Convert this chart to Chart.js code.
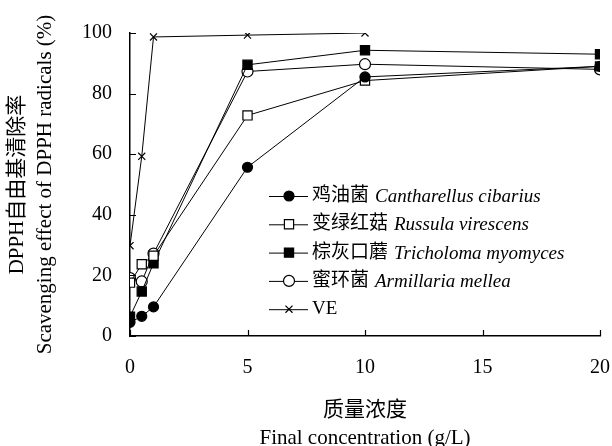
<!DOCTYPE html>
<html>
<head>
<meta charset="utf-8">
<script src="https://cdn.jsdelivr.net/npm/chart.js@4"></script>
<style>
html,body{margin:0;padding:0;background:#fff}
#wrap{width:612px;height:446px}
</style>
</head>
<body>
<div id="wrap"><canvas id="c" width="612" height="446"></canvas></div>
<script>
// données
const concentrations = [0, 0.5, 1, 5, 10, 20];
const chanterelle = [4.5, 6.5, 9.6, 55.7, 85.5, 89];
const russula = [17.6, 23.7, 26.5, 72.8, 84.3, 89];
const tricholoma = [6.4, 14.7, 24, 89.5, 94.3, 93];
const armillaria = [19.1, 18, 27.2, 87.3, 89.7, 88];
const veValues = [29.8, 59.3, 98.7, 99.3, 100];

const cnNames = ['鸡油菌', '变绿红菇', '棕灰口蘑', '蜜环菌', 'VE'];
const latinNames = ['Cantharellus cibarius', 'Russula virescens', 'Tricholoma myomyces', 'Armillaria mellea', ''];

const xTicks = [0, 5, 10, 15, 20];
const yTicks = [0, 20, 40, 60, 80, 100];

const SERIF = "'Liberation Serif','Noto Sans CJK SC',serif";

function pts(values){
    return values.map((v,i)=>({x:concentrations[i], y:v}));
}

function series(label, values, style, fill, radius){
    return {
        label: label,
        data: pts(values),
        borderColor: '#000',
        borderWidth: 1,
        pointStyle: style,
        pointRadius: radius,
        pointBackgroundColor: fill,
        pointBorderColor: '#000',
        pointBorderWidth: 1.2,
        tension: 0
    };
}

// petits traits vers l'intérieur
const innerTicks = {
    id: 'innerTicks',
    afterDraw(chart){
        const ctx = chart.ctx, x = chart.scales.x, y = chart.scales.y;
        ctx.save();
        ctx.strokeStyle = '#000';
        ctx.lineWidth = 1.2;
        ctx.beginPath();
        xTicks.forEach(v=>{
            const px = Math.round(x.getPixelForValue(v)) + 0.5;
            ctx.moveTo(px, y.bottom);
            ctx.lineTo(px, y.bottom - 6);
        });
        yTicks.forEach(v=>{
            const py = Math.round(y.getPixelForValue(v)) + 0.5;
            ctx.moveTo(x.left, py);
            ctx.lineTo(x.left + 6, py);
        });
        ctx.stroke();
        ctx.restore();
    }
};

// légende avec noms latins en italique
const mixedLegend = {
    id: 'mixedLegend',
    afterDraw(chart){
        const ctx = chart.ctx;
        const x0 = 269, x1 = 308, xm = 289, xt = 312;
        let yRow = 196;
        ctx.save();
        chart.data.datasets.forEach((ds,i)=>{
            ctx.strokeStyle = '#000';
            ctx.lineWidth = 1;
            ctx.beginPath();
            ctx.moveTo(x0, yRow + 0.5);
            ctx.lineTo(x1, yRow + 0.5);
            ctx.stroke();
            ctx.fillStyle = ds.pointBackgroundColor;
            ctx.strokeStyle = '#000';
            ctx.lineWidth = 1.2;
            Chart.helpers.drawPoint(ctx, {pointStyle: ds.pointStyle, radius: ds.pointRadius, rotation: 0, borderWidth: 1.2}, xm, yRow);
            ctx.fillStyle = '#000';
            ctx.textBaseline = 'middle';
            ctx.textAlign = 'left';
            ctx.font = "19px " + SERIF;
            ctx.fillText(cnNames[i], xt, yRow);
            const w = ctx.measureText(cnNames[i]).width;
            if (latinNames[i]) {
                ctx.font = "italic 19px 'Liberation Serif',serif";
                ctx.fillText(latinNames[i], xt + w + 6, yRow + 1);
            }
            yRow += 28.3;
        });
        ctx.restore();
    }
};

new Chart(document.getElementById('c'), {
    type: 'line',
    data: {
        datasets: [
            series(cnNames[0], chanterelle, 'circle', '#000', 5),
            series(cnNames[1], russula, 'rect', '#fff', 6.5),
            series(cnNames[2], tricholoma, 'rect', '#000', 6.5),
            series(cnNames[3], armillaria, 'circle', '#fff', 5.5),
            series(cnNames[4], veValues, 'crossRot', '#000', 5)
        ]
    },
    options: {
        responsive: false,
        animation: false,
        layout: {padding: {top: 33, right: 12, left: 0, bottom: 0}},
        plugins: {
            legend: {display: false},
            tooltip: {enabled: false}
        },
        scales: {
            x: {
                type: 'linear',
                min: 0, max: 20,
                afterBuildTicks: s => { s.ticks = xTicks.map(v=>({value:v})); },
                afterFit: s => { s.height = 110; s.paddingLeft = 0; s.paddingRight = 0; },
                grid: {display: false, drawTicks: false},
                border: {display: true, color: '#000', width: 1.5},
                ticks: {color: '#000', padding: 20, font: {family: SERIF, size: 20}},
                title: {
                    display: true,
                    text: ['质量浓度', 'Final concentration (g/L)'],
                    color: '#000',
                    font: {family: SERIF, size: 21, lineHeight: '28px'},
                    padding: {top: 0, bottom: -6}
                }
            },
            y: {
                type: 'linear',
                min: 0, max: 100,
                afterBuildTicks: s => { s.ticks = yTicks.map(v=>({value:v})); },
                afterFit: s => { s.width = 130; s.paddingTop = 0; s.paddingBottom = 0; },
                grid: {display: false, drawTicks: false},
                border: {display: true, color: '#000', width: 1.5},
                ticks: {color: '#000', padding: 18, font: {family: SERIF, size: 20}},
                title: {
                    display: true,
                    text: ['DPPH自由基清除率', 'Scavenging effect of DPPH radicals (%)'],
                    color: '#000',
                    font: {family: SERIF, size: 21, lineHeight: '27.5px'},
                    padding: {top: 3.75, bottom: 0}
                }
            }
        }
    },
    plugins: [innerTicks, mixedLegend]
});
</script>
</body>
</html>
